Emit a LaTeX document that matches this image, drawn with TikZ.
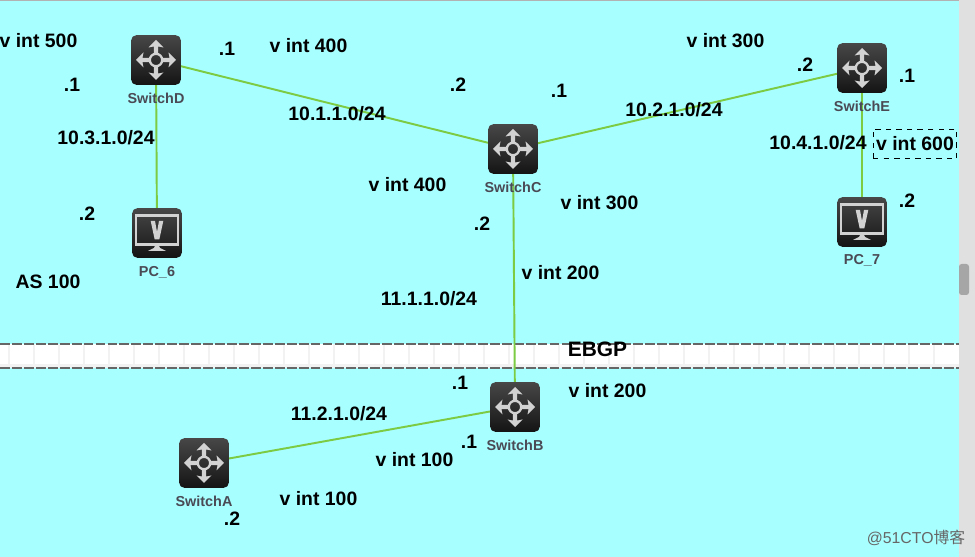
\documentclass[tikz,border=0pt]{standalone}
\usepackage{fontspec}
\setmainfont{Liberation Sans}
\newfontfamily\cjkfont{Noto Sans CJK SC}
\definecolor{skyfill}{HTML}{A8FFFF}
\definecolor{linkgreen}{HTML}{7CCB42}
\definecolor{glyphgray}{HTML}{D2D2D2}
\definecolor{devgray}{HTML}{4A4A55}
\pgfdeclarelayer{linklayer}
\pgfsetlayers{linklayer,main}
\tikzset{
  lbl/.style={font=\bfseries\fontsize{11.05}{12}\selectfont,inner sep=0pt},
  devlabel/.style={font=\bfseries\fontsize{8.2}{10}\selectfont,text=devgray,inner sep=0pt,yshift=-4.4pt},
  devbox/.style={minimum size=28.3pt,inner sep=0pt,outer sep=0pt,rounded corners=3pt,
    top color=black!72,bottom color=black!92},
  link/.style={linkgreen,line width=1.1pt},
  bandline/.style={black!60,line width=1.1pt,dash pattern=on 5.6pt off 1.2pt}
}
\begin{document}
\begin{tikzpicture}[x=0.02cm, y=-0.02cm]
\useasboundingbox (0,0) rectangle (975,557);
\begin{pgfonlayer}{linklayer}
\fill[skyfill] (0,0) rectangle (975,557);
\fill[black!30] (0,0) rectangle (975,1);
% EBGP band
\fill[white] (0,344) rectangle (959,368);
\fill[black!5] (0,364) rectangle (959,368);
\foreach \x in {8,33,...,933}
  \fill[black!5] (\x,344) rectangle (\x+1.5,368);
\draw[bandline] (0,344) -- (959,344);
\draw[bandline] (0,368) -- (959,368);
% scrollbar
\fill[black!12] (959,0) rectangle (975,557);
\fill[black!35,rounded corners=1.5pt] (959,264) rectangle (969,295);
\end{pgfonlayer}
% devices
\node[devbox,label={[devlabel]below:SwitchD}] (switchD) at (156,60) {};
\node[devbox,label={[devlabel]below:SwitchC}] (switchC) at (513,149) {};
\node[devbox,label={[devlabel]below:SwitchE}] (switchE) at (862,68) {};
\node[devbox,label={[devlabel]below:SwitchB}] (switchB) at (515,407) {};
\node[devbox,label={[devlabel]below:SwitchA}] (switchA) at (204,463) {};
\node[devbox,label={[devlabel]below:PC\_6}] (pc6) at (157,233) {};
\node[devbox,label={[devlabel]below:PC\_7}] (pc7) at (862,222) {};
% links
\begin{pgfonlayer}{linklayer}
\draw[link] (switchD) -- (switchC);
\draw[link] (switchC) -- (switchE);
\draw[link] (switchD) -- (pc6);
\draw[link] (switchE) -- (pc7);
\draw[link] (switchC) -- (switchB);
\draw[link] (switchB) -- (switchA);
\end{pgfonlayer}
% switch glyphs
\foreach \sw in {switchD,switchC,switchE,switchB,switchA} {
  \draw[glyphgray,line width=1.3pt] (\sw) circle (6.2);
  \foreach \a in {0,90,180,270}
    \fill[glyphgray,shift={(\sw)},rotate=\a] (7,-2.2) -- (13.5,-2.2) -- (12.5,-7.5) -- (20,0) -- (12.5,7.5) -- (13.5,2.2) -- (7,2.2) -- cycle;
}
% monitor glyphs
\foreach \pc in {pc6,pc7} {
  \draw[glyphgray,line width=1.3pt,shift={(\pc)}] (-21,-17.5) rectangle (21,11.5);
  \fill[glyphgray,shift={(\pc)}] (-6.3,-12) -- (-2,-12) -- (0,-1) -- (2,-12) -- (6.3,-12) -- (2.3,6.5) -- (-2.3,6.5) -- cycle;
  \fill[glyphgray,shift={(\pc)}] (-2,13) -- (2,13) -- (3,15) -- (9,18) -- (-9,18) -- (-3,15) -- cycle;
}
% addresses and interfaces
\node[lbl] (vint500) at (38.5,41) {v int 500};
\node[lbl] (dD1) at (72,85) {.1};
\node[lbl] (net31) at (106,138) {10.3.1.0/24};
\node[lbl] (dPC6) at (87,214) {.2};
\node[lbl] (as100) at (48,282) {AS 100};
\node[lbl] (dD2) at (227,49) {.1};
\node[lbl] (vint400a) at (308.5,46) {v int 400};
\node[lbl] (net11) at (337,114) {10.1.1.0/24};
\node[lbl] (dC1) at (458,85) {.2};
\node[lbl] (dC2) at (559,91) {.1};
\node[lbl] (vint400b) at (407.5,185) {v int 400};
\node[lbl] (vint300a) at (599.5,203) {v int 300};
\node[lbl] (dC3) at (482,224) {.2};
\node[lbl] (vint200a) at (560.5,273) {v int 200};
\node[lbl] (net111) at (429,299) {11.1.1.0/24};
\node[lbl] (vint300b) at (725.5,41) {v int 300};
\node[lbl] (dE1) at (805,65) {.2};
\node[lbl] (net21) at (674,110) {10.2.1.0/24};
\node[lbl] (dE2) at (907,76) {.1};
\node[lbl] (net41) at (818,143) {10.4.1.0/24};
\node[lbl,draw,dashed,line width=0.55pt,minimum width=47.6pt,minimum height=17pt] (vint600) at (915,144) {v int 600};
\node[lbl] (dPC7) at (907,201) {.2};
\node[lbl,font=\bfseries\fontsize{11.9}{13}\selectfont] (ebgp) at (597.5,349) {EBGP};
\node[lbl] (dB1) at (460,383) {.1};
\node[lbl] (vint200b) at (607.5,391) {v int 200};
\node[lbl] (net112) at (339,414) {11.2.1.0/24};
\node[lbl] (dB2) at (469,442) {.1};
\node[lbl] (vint100a) at (414.5,460) {v int 100};
\node[lbl] (vint100b) at (318.5,499) {v int 100};
\node[lbl] (dA) at (232,519) {.2};
\node[inner sep=0pt,text=black!60,font=\fontsize{9}{11}\selectfont] (mark) at (916,538) {@51CTO{\cjkfont 博客}};
\end{tikzpicture}
\end{document}
